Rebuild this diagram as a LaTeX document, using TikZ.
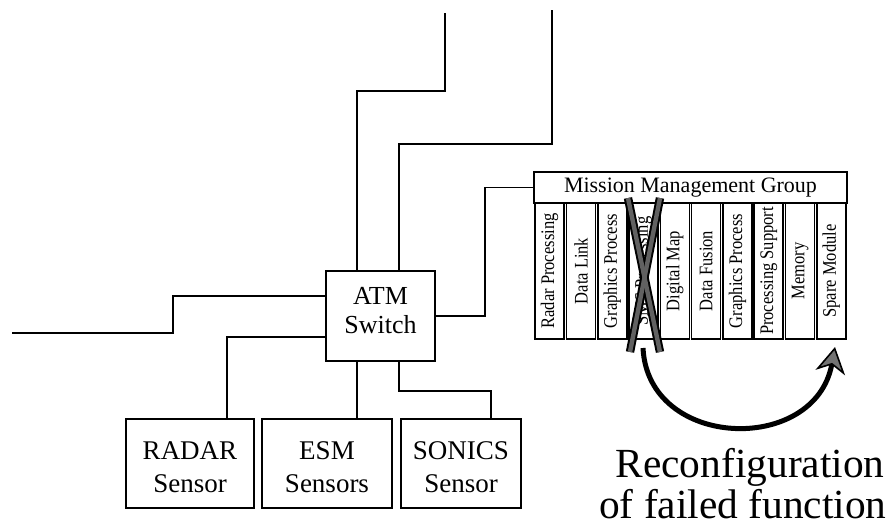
\documentclass[tikz,border=0pt]{standalone}
\usepackage{fontspec}
\setmainfont{Liberation Serif}
\newfontfamily\colfont[FakeStretch=0.86]{Liberation Serif}
\usetikzlibrary{arrows.meta}
\begin{document}
\begin{tikzpicture}[x=0.5pt,y=-0.5pt,
  wire/.style={line width=0.8pt},
  box/.style={draw,line width=0.9pt,inner sep=0pt},
  lbl/.style={font=\fontsize{13}{14.5}\selectfont,align=center,inner sep=0pt},
  slbl/.style={font=\fontsize{13.5}{16.5}\selectfont,align=center,inner sep=0pt},
  colbox/.style={draw,line width=0.8pt,rotate=90,minimum width=68pt,minimum height=14.5pt,inner sep=0pt,font=\colfont\fontsize{9.6}{10}\selectfont},
  bigtxt/.style={font=\fontsize{20.7}{24}\selectfont,inner sep=0pt,anchor=base east}
]
\useasboundingbox (0,0) rectangle (891,525);

% ATM switch
\node[box,minimum width=54.5pt,minimum height=45pt] (atm) at (380.5,316) {};
\node[lbl] (atmtxt) at (380.5,311) {ATM\\Switch};

% sensors
\node[box,minimum width=64pt,minimum height=44.5pt] (radar) at (190,463.5) {};
\node[box,minimum width=65pt,minimum height=44.5pt] (esm) at (327,463.5) {};
\node[box,minimum width=60pt,minimum height=44.5pt] (sonics) at (461,463.5) {};
\node[slbl] (radartxt) at (190,467) {RADAR\\Sensor};
\node[slbl] (esmtxt) at (327,467) {ESM\\Sensors};
\node[slbl] (sonicstxt) at (461,467) {SONICS\\Sensor};

% mission management group
\node[box,minimum width=156.5pt,minimum height=15.5pt,font=\fontsize{11}{12}\selectfont] (mmg) at (690.5,187.5) {Mission Management Group};
\foreach \t [count=\i from 0] in {Radar Processing,Data Link,Graphics Process,SMS Processing,Digital Map,Data Fusion,Graphics Process,Processing Support,Memory,Spare Module}
  \node[colbox] (c\i) at ({549.65+31.3*\i},271) {\t};

% failed function cross
\draw[black,line width=4.2pt] (628,198) -- (660,352);
\draw[black,line width=4.2pt] (660,198) -- (630,352);
\draw[black!62,line width=2.2pt] (628,198) -- (660,352);
\draw[black!62,line width=2.2pt] (660,198) -- (630,352);

% reconfiguration arrow
\coordinate (arrs) at (643,348);
\coordinate (arre) at (835,347);
\draw[line width=2.5pt,-{Stealth[length=13pt,width=15pt,inset=4pt,fill=black!55,line width=0.8pt]}]
  (arrs) .. controls (648,450) and (815,455) .. (arre);

\node[bigtxt] (rec1) at (885,477) {Reconfiguration};
\node[bigtxt] (rec2) at (887,518) {of failed function};

% connection points
\coordinate (an1) at ([xshift=-11.75pt]atm.north);
\coordinate (an2) at ([xshift=9.25pt]atm.north);
\coordinate (as1) at ([xshift=-11.75pt]atm.south);
\coordinate (as2) at ([xshift=9.25pt]atm.south);
\coordinate (aw1) at ([yshift=10pt]atm.west);
\coordinate (aw2) at ([yshift=-10.5pt]atm.west);
\coordinate (t1) at (445,13);
\coordinate (t2) at (552,10);
\coordinate (l1) at (12,333);

% wires
\draw[wire] (t1) -- (445,91) -| (an1);
\draw[wire] (t2) -- (552,144) -| (an2);
\draw[wire] (atm.east) -- (485,316) |- (mmg.west);
\draw[wire] (l1) -- (173,333) |- (aw1);
\draw[wire] (aw2) -| ([xshift=18.5pt]radar.north);
\draw[wire] (as1) -- (as1 |- esm.north);
\draw[wire] (as2) -- ++(0,29) -| ([xshift=15pt]sonics.north);
\end{tikzpicture}
\end{document}
